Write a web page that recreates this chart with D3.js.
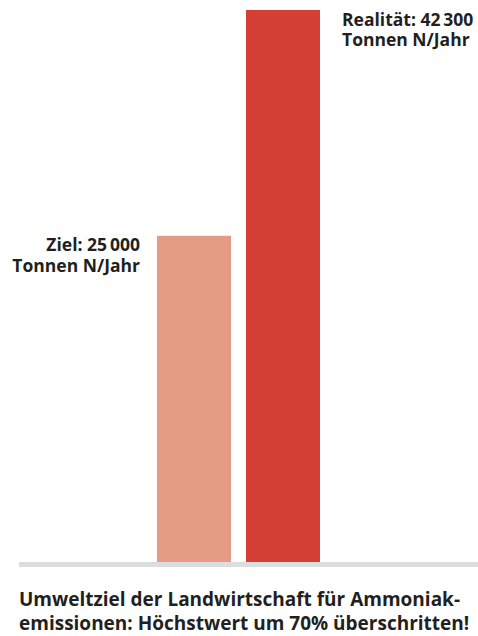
<!DOCTYPE html>
<html>
<head>
<meta charset="utf-8">
<script src="https://cdn.jsdelivr.net/npm/d3@7"></script>
<style>
  html, body { margin: 0; padding: 0; background: #fff; }
  svg { display: block; }
  text { font-family: "Open Sans", sans-serif; font-weight: 700; fill: #231f20; }
</style>
</head>
<body>
<svg id="chart" width="478" height="636"></svg>
<script>
const categories = ["Ziel", "Realität"];
const values = [25000, 42300];
const labelLines = [["Ziel: 25\u2009000", "Tonnen N/Jahr"], ["Realität: 42\u2009300", "Tonnen N/Jahr"]];
const colors = ["#e59c84", "#d33f35"];
const captionLines = ["Umweltziel der Landwirtschaft für Ammoniak-", "emissionen: Höchstwert um 70% überschritten!"];

const svg = d3.select("#chart");
const baseY = 562;

const x = d3.scaleBand().domain(categories).range([157, 320]).paddingInner(15 / 89).paddingOuter(0);
const y = d3.scaleLinear().domain([0, 42300]).range([baseY, 10]);

svg.selectAll("rect.bar").data(values).join("rect")
  .attr("class", "bar")
  .attr("x", (d, i) => x(categories[i]))
  .attr("width", x.bandwidth())
  .attr("y", d => y(d))
  .attr("height", d => baseY - y(d))
  .attr("fill", (d, i) => colors[i]);

// baseline
svg.append("rect").attr("x", 19).attr("y", baseY).attr("width", 478 - 19).attr("height", 5).attr("fill", "#dcddde");

// labels
const lab = svg.selectAll("text.lab").data(values).join("text")
  .attr("class", "lab")
  .attr("font-size", 17.5)
  .attr("text-anchor", (d, i) => i === 0 ? "end" : "start")
  .attr("x", (d, i) => i === 0 ? x(categories[0]) - 17 : x(categories[1]) + x.bandwidth() + 22)
  .attr("y", d => y(d) + 15.5);
lab.selectAll("tspan").data((d, i) => labelLines[i]).join("tspan")
  .attr("x", function() { return this.parentNode.getAttribute("x"); })
  .attr("dy", (d, j) => j === 0 ? 0 : 20.5)
  .text(d => d);

// caption
const cap = svg.append("text").attr("x", 19).attr("y", 606).attr("font-size", 19);
cap.selectAll("tspan").data(captionLines).join("tspan")
  .attr("x", 19).attr("dy", (d, j) => j === 0 ? 0 : 24).text(d => d);
</script>
</body>
</html>
